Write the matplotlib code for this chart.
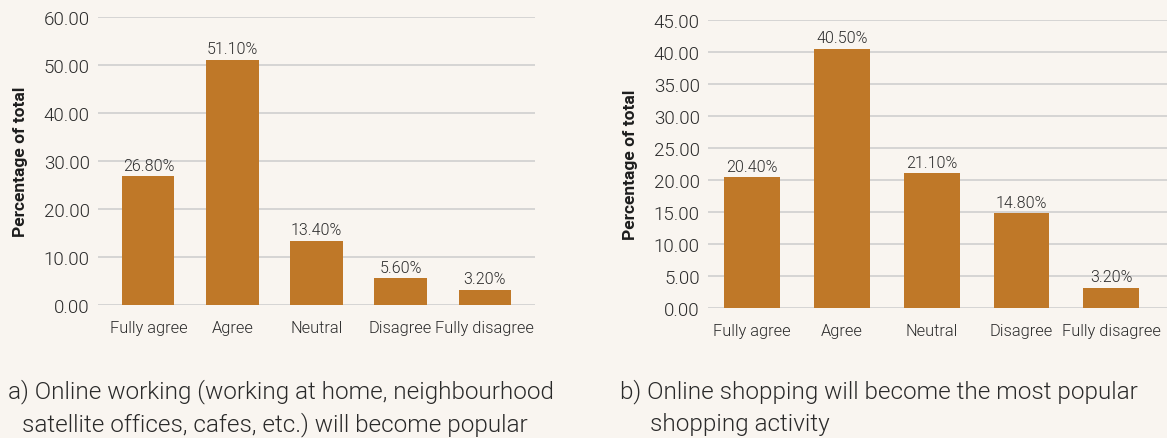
import matplotlib.pyplot as plt
from matplotlib.ticker import FormatStrFormatter

categories = ["Fully agree", "Agree", "Neutral", "Disagree", "Fully disagree"]
working = [26.8, 51.1, 13.4, 5.6, 3.2]
shopping = [20.4, 40.5, 21.1, 14.8, 3.2]

caption_a = ["a) Online working (working at home, neighbourhood",
             "satellite offices, cafes, etc.) will become popular"]
caption_b = ["b) Online shopping will become the most popular",
             "shopping activity"]

bg = "#f9f5f0"
bar_col = "#bf7828"
txt = "#2a2a2a"
w = 300  # Roboto Light

plt.rcParams['font.family'] = ['Roboto', 'DejaVu Sans']

fig = plt.figure(figsize=(11.67, 4.39), dpi=100)
fig.patch.set_facecolor(bg)


def panel(rect, vals, ymax, step, xlim):
    ax = fig.add_axes(rect)
    ax.set_facecolor(bg)
    x = range(len(categories))
    ax.bar(x, vals, width=0.62, color=bar_col, zorder=2)
    for i, v in zip(x, vals):
        ax.text(i, v + ymax * 0.012, "%.2f%%" % v, ha='center', va='bottom',
                fontsize=11.5, color=txt, fontweight=w)
    ax.set_ylim(0, ymax)
    ax.set_xlim(*xlim)
    ax.set_yticks([k * step for k in range(int(round(ymax / step)) + 1)])
    ax.yaxis.set_major_formatter(FormatStrFormatter('%.2f'))
    ax.set_xticks(list(x))
    ax.set_xticklabels(categories)
    ax.grid(axis='y', color='#cfcfcf', linewidth=1.2, zorder=0)
    for s in ax.spines.values():
        s.set_visible(False)
    ax.tick_params(length=0, labelcolor=txt)
    ax.tick_params(axis='x', pad=11, labelsize=11.8)
    ax.tick_params(axis='y', pad=6, labelsize=13.5)
    for lab in ax.get_xticklabels() + ax.get_yticklabels():
        lab.set_fontweight(w)
    ax.set_ylabel("Percentage of total", fontsize=12.5, fontweight='bold',
                  color='#1e1e1e', labelpad=11)
    return ax


panel([98 / 1167, 1 - 306 / 439, 437 / 1167, 288 / 439], working, 60, 10,
      (-0.6, 4.6))
panel([708 / 1167, 1 - 309 / 439, 459 / 1167, 288 / 439], shopping, 45, 5,
      (-0.49, 4.62))

cap = dict(fontsize=17.5, color=txt, fontweight=w, va='center')
fig.text(8 / 1167, 1 - 392 / 439, caption_a[0], **cap)
fig.text(22 / 1167, 1 - 425 / 439, caption_a[1], **cap)
fig.text(620 / 1167, 1 - 392 / 439, caption_b[0], **cap)
fig.text(650 / 1167, 1 - 425 / 439, caption_b[1], **cap)

fig.savefig("out.png", dpi=100, facecolor=bg)
